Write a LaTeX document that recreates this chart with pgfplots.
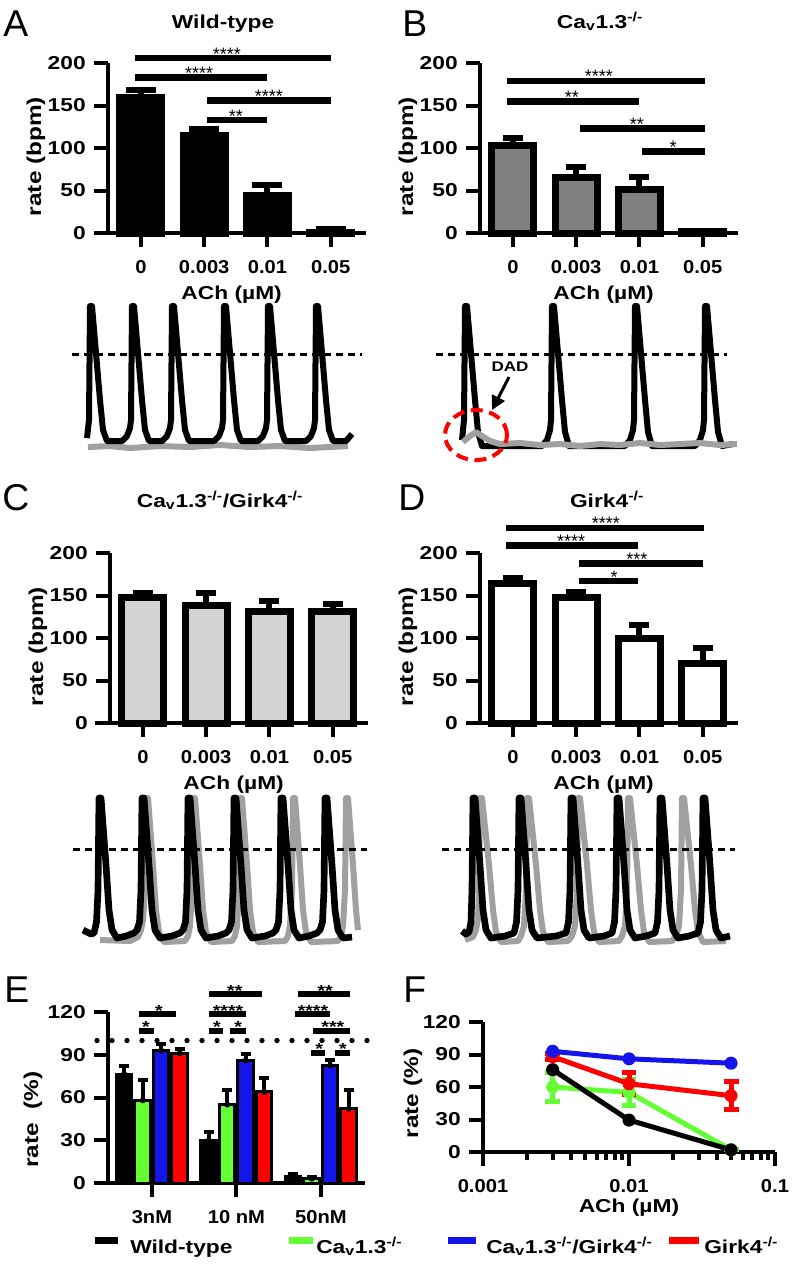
\documentclass[border=0pt]{standalone}
\usepackage{pgfplots}
\pgfplotsset{compat=1.18}
\usepackage{fontspec}
\setmainfont{Liberation Sans}
\newfontfamily\wf{Liberation Sans}[FakeStretch=1.22]
\newfontfamily\nf{Liberation Sans}[FakeStretch=1.08]
\usetikzlibrary{arrows.meta}
\definecolor{egreen}{RGB}{100,255,50}
\definecolor{eblue}{RGB}{20,20,235}
\definecolor{ered}{RGB}{255,0,0}
\definecolor{bgray}{RGB}{128,128,128}
\definecolor{cgray}{RGB}{211,211,211}
\definecolor{tgray}{RGB}{160,160,160}
\newcommand\lab{\wf\bfseries\fontsize{14}{16}\selectfont}
\newcommand\xlab{\nf\bfseries\fontsize{14}{16}\selectfont}
\newcommand\ylab{\wf\bfseries\fontsize{15}{17}\selectfont}
\newcommand\starA{\fontsize{13.5}{14}\selectfont}
\newcommand\starE{\wf\bfseries\fontsize{12}{12}\selectfont}
\newcommand\cav{Ca\textsubscript{v}1.3\textsuperscript{-/-}}
\newcommand\girk{Girk4\textsuperscript{-/-}}
\newcommand\sig[5]{\addplot[line width=#4, no marks] coordinates {(#1,#3) (#2,#3)};}
\pgfplotsset{
  prism/.style={
    scale only axis, anchor=south west, clip=false,
    axis x line=bottom, axis y line=left,
    axis line style={line width=3pt, -},
    every tick/.style={line width=3pt, black},
    major tick length=10.5pt, minor tick length=6pt,
    tick align=outside,
    yticklabel style={font=\lab, anchor=east, inner sep=0pt, xshift=-6pt},
    xticklabel style={font=\xlab, inner sep=0pt, anchor=base, yshift=-20pt},
    xlabel style={font=\lab},
    ylabel style={font=\ylab},
    /pgf/number format/assume math mode=true,
  },
  barA/.style={prism, width=193.2pt, height=127.5pt, xmin=-0.52, xmax=3.55, ymin=0, ymax=200,
    xtick={0,1,2,3}, xticklabels={0,0.003,0.01,0.05},
    ytick={0,50,100,150,200}, yticklabels={0,50,100,150,200},
    xlabel={ACh (µM)}, ylabel={rate (bpm)},
    xlabel style={at={(axis description cs:0.48,0)}, anchor=base, yshift=-50pt},
    ylabel style={at={(axis description cs:-0.28,0.45)}, anchor=center},
  },
  errA/.style={error bars/.cd, y dir=plus, y explicit,
    error bar style={line width=4.5pt, black},
    error mark options={rotate=90, line width=4.5pt, mark size=11.25pt, black}},
  errB/.style={error bars/.cd, y dir=plus, y explicit,
    error bar style={line width=4.5pt, black},
    error mark options={rotate=90, line width=4.5pt, mark size=7.5pt, black}},
  errE/.style={error bars/.cd, y dir=plus, y explicit,
    error bar style={line width=3pt, black},
    error mark options={rotate=90, line width=3pt, mark size=3.75pt, black}},
  errF/.style={error bars/.cd, y dir=both, y explicit,
    error bar style={line width=3.75pt},
    error mark options={rotate=90, line width=3.75pt, mark size=5.6pt}},
}
\begin{document}
\begin{tikzpicture}
\path[use as bounding box] (0pt,0pt) rectangle (594.75pt,-948.75pt);

% ---------- overlay: traces, titles, letters, legend ----------
\begin{axis}[at={(0pt,0pt)}, anchor=north west, scale only axis,
  width=594.75pt, height=948.75pt, xmin=0, xmax=793, ymin=0, ymax=1265,
  y dir=reverse, axis lines=none, clip=false]
% A traces
\addplot[tgray, line width=4.5pt, line join=round, no marks] coordinates {(88,447) (110,446) (130,448) (160,446) (190,447) (220,445) (250,447) (280,446) (310,448) (348,446)};
\addplot[black, line width=4.5pt, line join=round, no marks] coordinates {(87,438) (89,420) (90,306) (92,306) (100,400) (103,430) (107,441) (122,441) (127,436) (130,428) (131,420) (132,306) (134,306) (142,400) (145,430) (149,441) (162,441) (167,436) (170,428) (171,420) (172,306) (174,306) (182,400) (185,430) (189,441) (214,441) (219,436) (222,428) (223,420) (224,306) (226,306) (234,400) (237,430) (241,441) (258,441) (263,436) (266,428) (267,420) (268,306) (270,306) (278,400) (281,430) (285,441) (306,441) (311,436) (314,428) (315,420) (316,306) (318,306) (326,400) (329,430) (333,441) (346,441) (352,434)};
\addplot[black, line width=2.25pt, dash pattern=on 5.6pt off 3.4pt, no marks] coordinates {(72,354) (362,354)};
% B traces
\addplot[black, line width=4.5pt, line join=round, no marks] coordinates {(462,440) (464,420) (465,306) (467,306) (475,400) (478,432) (482,446) (542,446) (547,440) (550,430) (551,420) (552,306) (554,306) (562,400) (565,432) (569,446) (625,446) (630,440) (633,430) (634,420) (635,306) (637,306) (645,400) (648,432) (652,446) (695,446) (700,440) (703,430) (704,420) (705,306) (707,306) (715,400) (718,432) (722,446) (733,444)};
\addplot[tgray, line width=4.5pt, line join=round, no marks] coordinates {(463,442) (470,436) (476,432) (482,436) (490,441) (500,444) (520,443) (540,445) (560,444) (580,446) (600,444) (620,445) (640,443) (660,445) (680,444) (700,443) (720,445) (737,444)};
\addplot[black, line width=2.25pt, dash pattern=on 5.6pt off 3.4pt, no marks] coordinates {(436,354) (727,354)};
\draw[ered, line width=3pt, dash pattern=on 9pt off 5pt] (axis cs:476,435) ellipse [x radius=23.25pt, y radius=18.75pt];
\node[font=\wf\bfseries\fontsize{10.5}{12}\selectfont] at (axis cs:510,367) {DAD};
\draw[line width=2.25pt, -{Triangle[length=10.5pt,width=10.5pt]}] (axis cs:509,377) -- (axis cs:492,410);
% C traces
\addplot[tgray, line width=4.5pt, line join=round, no marks] coordinates {(100,940) (130,941) (138,937) (141,930) (143,920) (145,890) (146,798) (148,798) (153,865) (156,910) (159,932) (164,942) (185,941) (188,936) (190,926) (192,890) (193,798) (195,798) (200,865) (203,910) (206,932) (211,942) (232,941) (235,936) (237,926) (239,890) (240,798) (242,798) (247,865) (250,910) (253,932) (258,942) (285,941) (288,936) (290,926) (292,890) (293,798) (295,798) (300,865) (303,910) (306,932) (311,942) (338,941) (341,936) (343,926) (345,890) (346,798) (348,798) (353,865) (356,910) (358,930)};
\addplot[black, line width=5pt, line join=round, no marks] coordinates {(83,930) (91,934) (94,933) (96.5,922) (98,890) (99,798) (101,798) (106,865) (109,910) (112,930) (117,938) (126,936) (134,933) (137,930) (139.5,922) (141,890) (142,798) (144,798) (149,865) (152,910) (155,930) (160,938) (172,936) (180,933) (183,930) (185.5,922) (187,890) (188,798) (190,798) (195,865) (198,910) (201,930) (206,938) (218,936) (226,933) (229,930) (231.5,922) (233,890) (234,798) (236,798) (241,865) (244,910) (247,930) (252,938) (265,936) (273,933) (276,930) (278.5,922) (280,890) (281,798) (283,798) (288,865) (291,910) (294,930) (299,938) (309,936) (317,933) (320,930) (322.5,922) (324,890) (325,798) (327,798) (332,865) (335,910) (338,930) (343,938) (352,937)};
\addplot[black, line width=2.25pt, dash pattern=on 5.6pt off 3.4pt, no marks] coordinates {(73,849) (367,849)};
% D traces
\addplot[tgray, line width=4.5pt, line join=round, no marks] coordinates {(465,940) (473,937) (476,930) (478,918) (479,890) (480,798) (482,798) (489,865) (493,910) (496,932) (501,942) (518,941) (521,936) (524,926) (526,890) (527,798) (529,798) (536,865) (540,910) (543,932) (548,942) (568,941) (572,936) (575,926) (577,890) (578,798) (580,798) (587,865) (591,910) (594,932) (599,942) (619,941) (622,936) (625,926) (627,890) (628,798) (630,798) (637,865) (641,910) (644,932) (649,942) (672,941) (676,936) (679,926) (681,890) (682,798) (684,798) (691,865) (695,910) (698,932) (703,942) (726,941)};
\addplot[black, line width=5pt, line join=round, no marks] coordinates {(462,931) (466,934) (469,932) (471,922) (472,890) (473,798) (475,798) (480,865) (483,910) (486,930) (491,938) (505,936) (514,933) (516.5,922) (518,890) (519,798) (521,798) (526,865) (529,910) (532,930) (537,938) (556,936) (566,933) (568.5,922) (570,890) (571,798) (573,798) (578,865) (581,910) (584,930) (589,938) (604,936) (612,933) (614.5,922) (616,890) (617,798) (619,798) (624,865) (627,910) (630,930) (635,938) (646,936) (655,933) (657.5,922) (659,890) (660,798) (662,798) (667,865) (670,910) (673,930) (678,938) (689,936) (698,933) (700.5,922) (702,890) (703,798) (705,798) (710,865) (713,910) (716,930) (721,938) (730,936)};
\addplot[black, line width=2.25pt, dash pattern=on 5.6pt off 3.4pt, no marks] coordinates {(442,849) (735,849)};
% titles and panel letters
\node[font=\lab, anchor=base] at (axis cs:223,28) {Wild-type};
\node[font=\lab, anchor=base] at (axis cs:600,28) {\cav};
\node[font=\lab, anchor=base] at (axis cs:220,507) {\cav/\girk};
\node[font=\lab, anchor=base] at (axis cs:607,507) {\girk};
\node[font=\fontsize{28}{30}\selectfont, anchor=west, inner sep=0pt] at (axis cs:3,24) {A};
\node[font=\fontsize{28}{30}\selectfont, anchor=west, inner sep=0pt] at (axis cs:402,24) {B};
\node[font=\fontsize{28}{30}\selectfont, anchor=west, inner sep=0pt] at (axis cs:2,498) {C};
\node[font=\fontsize{28}{30}\selectfont, anchor=west, inner sep=0pt] at (axis cs:398,498) {D};
\node[font=\fontsize{28}{30}\selectfont, anchor=west, inner sep=0pt] at (axis cs:4,990) {E};
\node[font=\fontsize{28}{30}\selectfont, anchor=west, inner sep=0pt] at (axis cs:403,990) {F};
% legend
\fill[black] (axis cs:95,1237) rectangle (axis cs:118,1244);
\node[font=\lab, anchor=base west, inner sep=0pt] at (axis cs:130,1253) {Wild-type};
\fill[egreen] (axis cs:289,1237) rectangle (axis cs:313,1244);
\node[font=\lab, anchor=base west, inner sep=0pt] at (axis cs:316,1253) {\cav};
\fill[eblue] (axis cs:448,1237) rectangle (axis cs:476,1244);
\node[font=\lab, anchor=base west, inner sep=0pt] at (axis cs:486,1253) {\cav/\girk};
\fill[ered] (axis cs:669,1237) rectangle (axis cs:699,1244);
\node[font=\lab, anchor=base west, inner sep=0pt] at (axis cs:704,1253) {\girk};
\end{axis}

% ---------- A ----------
\begin{axis}[barA, at={(81pt,-174.75pt)}]
\addplot[ybar, bar width=31.5pt, fill=black, draw=black, line width=5.25pt, errA] coordinates {(0,159.4) +- (0,8.8) (1,114.7) +- (0,7.8) (2,44.5) +- (0,12) (3,1) +- (0,3.6)};
\sig{-0.1}{3.0}{206}{5pt}{}
\sig{-0.1}{2.0}{183}{5pt}{}
\sig{1.05}{3.0}{156}{5pt}{}
\sig{1.05}{2.0}{133}{5pt}{}
\node[font=\starA, anchor=base, yshift=-1.6pt] at (axis cs:1.36,206) {****};
\node[font=\starA, anchor=base, yshift=-1.6pt] at (axis cs:0.92,183) {****};
\node[font=\starA, anchor=base, yshift=-1.6pt] at (axis cs:2.02,156) {****};
\node[font=\starA, anchor=base, yshift=-1.6pt] at (axis cs:1.5,133) {**};
\draw[line width=3pt] (rel axis cs:0,0) -- ++(-9pt,0pt);
\end{axis}

% ---------- B ----------
\begin{axis}[barA, at={(360pt,-174.75pt)}]
\addplot[ybar, bar width=31.5pt, fill=bgray, draw=black, line width=5.25pt, errB] coordinates {(0,103.4) +- (0,8.1) (1,65.3) +- (0,12.2) (2,51.6) +- (0,13.9) (3,1.5) +- (0,1)};
\sig{-0.09}{3.03}{179}{5pt}{}
\sig{-0.09}{1.99}{155}{5pt}{}
\sig{1.06}{3.03}{122.7}{5pt}{}
\sig{2.04}{3.03}{95.6}{5pt}{}
\node[font=\starA, anchor=base, yshift=-1.6pt] at (axis cs:1.36,179) {****};
\node[font=\starA, anchor=base, yshift=-1.6pt] at (axis cs:0.93,155) {**};
\node[font=\starA, anchor=base, yshift=-1.6pt] at (axis cs:1.96,122.7) {**};
\node[font=\starA, anchor=base, yshift=-1.6pt] at (axis cs:2.53,95.6) {*};
\draw[line width=3pt] (rel axis cs:0,0) -- ++(-9pt,0pt);
\end{axis}

% ---------- C ----------
\begin{axis}[barA, at={(82.5pt,-542.25pt)}]
\addplot[ybar, bar width=31.5pt, fill=cgray, draw=black, line width=5.25pt, errB] coordinates {(0,147.3) +- (0,6.2) (1,137.9) +- (0,15.1) (2,131.6) +- (0,11.6) (3,130.9) +- (0,9.1)};
\draw[line width=3pt] (rel axis cs:0,0) -- ++(-11pt,0pt);
\end{axis}

% ---------- D ----------
\begin{axis}[barA, at={(360pt,-542.25pt)}]
\addplot[ybar, bar width=31.5pt, fill=white, draw=black, line width=5.25pt, errB] coordinates {(0,164) +- (0,6.6) (1,147.3) +- (0,6.8) (2,99) +- (0,16.3) (3,70.5) +- (0,18)};
\sig{-0.11}{3.02}{229.6}{5pt}{}
\sig{-0.11}{1.97}{209}{5pt}{}
\sig{1.04}{3.0}{188}{5pt}{}
\sig{1.04}{1.97}{167}{5pt}{}
\node[font=\starA, anchor=base, yshift=-1.6pt] at (axis cs:1.47,229.6) {****};
\node[font=\starA, anchor=base, yshift=-1.6pt] at (axis cs:0.92,209) {****};
\node[font=\starA, anchor=base, yshift=-1.6pt] at (axis cs:1.96,188) {***};
\node[font=\starA, anchor=base, yshift=-1.6pt] at (axis cs:1.6,167) {*};
\draw[line width=3pt] (rel axis cs:0,0) -- ++(-9pt,0pt);
\end{axis}

% ---------- E ----------
\begin{axis}[prism, at={(81pt,-887.25pt)}, width=192.7pt, height=128.25pt,
  xmin=-0.52, xmax=2.52, ymin=0, ymax=120,
  xtick={0,1,2}, xticklabels={3nM,10 nM,50nM},
  ytick={0,30,60,90,120}, yticklabels={0,30,60,90,120},
  ylabel={rate\ \ (\%)},
  ylabel style={at={(axis description cs:-0.292,0.37)}, anchor=center}]
\addplot[black, line width=4pt, line cap=round, dash pattern=on 0pt off 11.25pt, no marks] coordinates {(-0.65,100) (2.56,100)};
% Wild-type
\addplot[black, only marks, mark=none, errE] coordinates {(-0.328,76.5) +- (0,5.5) (0.672,30) +- (0,6) (1.672,4.5) +- (0,2)};
\addplot[ybar, bar width=11.6pt, bar shift=-20.81pt, fill=black, draw=black, line width=2.25pt] coordinates {(0,76.5) (1,30) (2,4.5)};
% Cav1.3-/-
\addplot[black, only marks, mark=none, errE] coordinates {(-0.109,58) +- (0,14) (0.891,55) +- (0,10) (1.891,3) +- (0,1.5)};
\addplot[ybar, bar width=11.6pt, bar shift=-6.94pt, fill=egreen, draw=black, line width=2.25pt] coordinates {(0,58) (1,55) (2,3)};
% Cav1.3-/-/Girk4-/-
\addplot[black, only marks, mark=none, errE] coordinates {(0.109,93) +- (0,4.5) (1.109,86) +- (0,4.5) (2.109,82.5) +- (0,3.5)};
\addplot[ybar, bar width=11.6pt, bar shift=6.94pt, fill=eblue, draw=black, line width=2.25pt] coordinates {(0,93) (1,86) (2,82.5)};
% Girk4-/-
\addplot[black, only marks, mark=none, errE] coordinates {(0.328,91) +- (0,3) (1.328,64) +- (0,10) (2.328,52) +- (0,13)};
\addplot[ybar, bar width=11.6pt, bar shift=20.81pt, fill=ered, draw=black, line width=2.25pt] coordinates {(0,91) (1,64) (2,52)};
\sig{-0.154}{0.284}{118.6}{4.5pt}{}
\sig{-0.154}{0.024}{107}{4.5pt}{}
\sig{0.675}{1.30}{132.6}{4.5pt}{}
\sig{0.675}{1.11}{118.6}{4.5pt}{}
\sig{0.675}{0.84}{107}{4.5pt}{}
\sig{0.92}{1.11}{107}{4.5pt}{}
\sig{1.73}{2.34}{132.6}{4.5pt}{}
\sig{1.69}{2.11}{118.6}{4.5pt}{}
\sig{1.905}{2.34}{107}{4.5pt}{}
\sig{1.88}{2.05}{91.5}{4.5pt}{}
\sig{2.17}{2.34}{91.5}{4.5pt}{}
\node[font=\starE, anchor=base, yshift=-1.5pt, inner sep=0pt] at (axis cs:0.083,118.6) {*};
\node[font=\starE, anchor=base, yshift=-1.5pt, inner sep=0pt] at (axis cs:-0.07,107) {*};
\node[font=\starE, anchor=base, yshift=-1.5pt, inner sep=0pt] at (axis cs:0.98,132.6) {**};
\node[font=\starE, anchor=base, yshift=-1.5pt, inner sep=0pt] at (axis cs:0.9,118.6) {****};
\node[font=\starE, anchor=base, yshift=-1.5pt, inner sep=0pt] at (axis cs:0.77,107) {*};
\node[font=\starE, anchor=base, yshift=-1.5pt, inner sep=0pt] at (axis cs:1.02,107) {*};
\node[font=\starE, anchor=base, yshift=-1.5pt, inner sep=0pt] at (axis cs:2.05,132.6) {**};
\node[font=\starE, anchor=base, yshift=-1.5pt, inner sep=0pt] at (axis cs:1.905,118.6) {****};
\node[font=\starE, anchor=base, yshift=-1.5pt, inner sep=0pt] at (axis cs:2.14,107) {***};
\node[font=\starE, anchor=base, yshift=-1.5pt, inner sep=0pt] at (axis cs:1.98,91.5) {*};
\node[font=\starE, anchor=base, yshift=-1.5pt, inner sep=0pt] at (axis cs:2.26,91.5) {*};
\draw[line width=3pt] (rel axis cs:0,0) -- ++(-9pt,0pt);
\end{axis}

% ---------- F ----------
\begin{axis}[prism, xmode=log, at={(362.25pt,-864pt)}, width=219pt, height=97.5pt,
  xmin=0.001, xmax=0.1, ymin=0, ymax=120,
  xtick={0.001,0.01,0.1}, xticklabels={0.001,0.01,0.1},
  minor xtick={0.002,0.003,0.004,0.005,0.006,0.007,0.008,0.009,0.02,0.03,0.04,0.05,0.06,0.07,0.08,0.09},
  ytick={0,30,60,90,120}, yticklabels={0,30,60,90,120},
  xlabel={ACh (µM)}, ylabel={rate (\%)},
  xlabel style={at={(axis description cs:0.5,0)}, anchor=base, yshift=-45pt},
  ylabel style={at={(axis description cs:-0.24,0.45)}, anchor=center}]
\addplot[egreen, line width=3.75pt, mark=*, mark size=4.4pt, mark options={line width=1pt}, errF] coordinates {(0.003,60) +- (0,13) (0.01,55) +- (0,12) (0.05,2) +- (0,0)};
\addplot[black, line width=3.75pt, mark=*, mark size=4.4pt, mark options={line width=1pt}] coordinates {(0.003,76) (0.01,29.5) (0.05,2)};
\addplot[ered, line width=3.75pt, mark=*, mark size=4.4pt, mark options={line width=1pt}, errF] coordinates {(0.003,88) +- (0,3) (0.01,63) +- (0,10) (0.05,52) +- (0,13)};
\addplot[eblue, line width=3.75pt, mark=*, mark size=4.4pt, mark options={line width=1pt}] coordinates {(0.003,93) (0.01,86) (0.05,82)};
\draw[line width=3pt] (rel axis cs:0,0) -- ++(-9pt,0pt);
\end{axis}
\end{tikzpicture}
\end{document}
